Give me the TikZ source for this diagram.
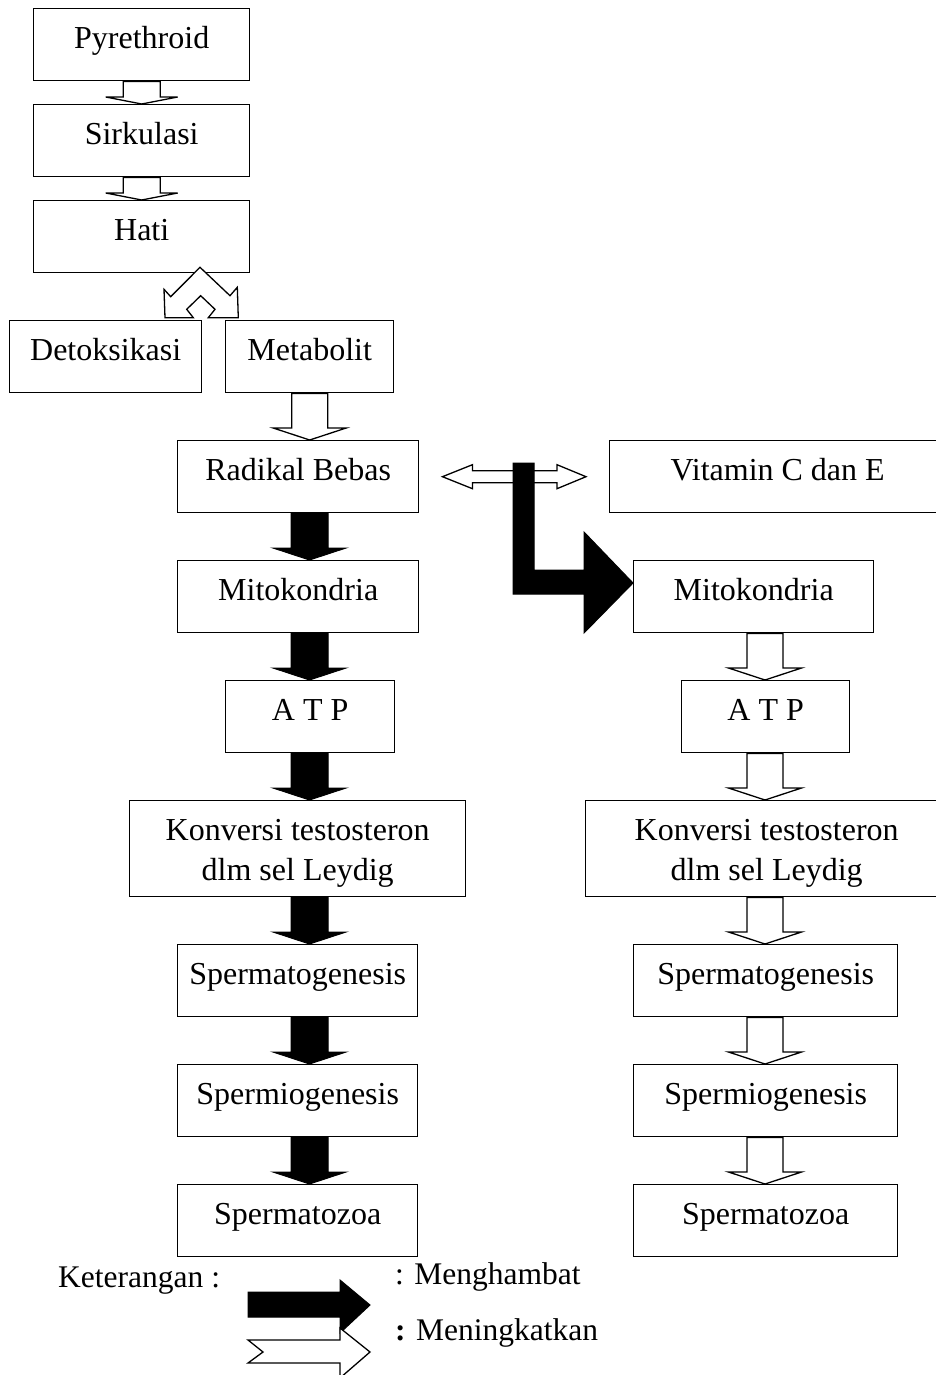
\documentclass[tikz,border=0pt]{standalone}
\usepackage{fontspec}
\setmainfont{Liberation Serif}
\usetikzlibrary{calc}
\tikzset{
  box/.style={draw, line width=1.4pt, rectangle, inner sep=0pt,
    font=\fontsize{32}{40}\selectfont, text height=40pt, text depth=32pt, anchor=north west},
  tallbox/.style={box, text depth=56pt},
  blk/.style={fill=black, draw=black, line width=1pt, line join=miter},
  wht/.style={fill=white, draw=black, line width=1.3pt, line join=miter},
  legtext/.style={inner sep=0pt, anchor=base west, font=\fontsize{31.5}{38}\selectfont},
}
% style, start, end, shaft half width, head half width, head length
\newcommand\vflow[6]{%
  \path[#1] let \p1=#2, \p2=#3 in
    (\x1-#4pt,\y1) -- (\x1-#4pt,\y2+#6pt) -- (\x1-#5pt,\y2+#6pt) -- (\x1,\y2)
    -- (\x1+#5pt,\y2+#6pt) -- (\x1+#4pt,\y2+#6pt) -- (\x1+#4pt,\y1) -- cycle;}
\begin{document}
\begin{tikzpicture}[x=1pt,y=-1pt]
\useasboundingbox (0,0) rectangle (935,1375);
\coordinate (lx) at (309.5,0);
\coordinate (rx) at (765,0);
% boxes
\node[box, minimum width=216pt] (pyr)  at (33,8)   {Pyrethroid};
\node[box, minimum width=216pt] (sirk) at (33,104) {Sirkulasi};
\node[box, minimum width=216pt] (hati) at (33,200) {Hati};
\node[box, minimum width=192pt] (detok) at (9,320) {Detoksikasi};
\node[box, minimum width=168pt] (meta) at (225,320) {Metabolit};
\node[box, minimum width=241pt] (rad)  at (177,440) {Radikal Bebas};
\node[box, minimum width=336pt] (vit)  at (609,440) {Vitamin C dan E};
\node[box, minimum width=241pt] (mitoL) at (177,560) {Mitokondria};
\node[box, minimum width=240pt] (mitoR) at (633,560) {Mitokondria};
\node[box, minimum width=169pt] (atpL) at (225,680) {A T P};
\node[box, minimum width=168pt] (atpR) at (681,680) {A T P};
\node[tallbox, minimum width=336pt] (konvL) at (129,800)
  {\begin{tabular}[t]{@{}c@{}}Konversi testosteron\\dlm sel Leydig\end{tabular}};
\node[tallbox, minimum width=362pt] (konvR) at (585,800)
  {\begin{tabular}[t]{@{}c@{}}Konversi testosteron\\dlm sel Leydig\end{tabular}};
\node[box, minimum width=240pt] (sgL) at (177,944)  {Spermatogenesis};
\node[box, minimum width=264pt] (sgR) at (633,944)  {Spermatogenesis};
\node[box, minimum width=240pt] (smL) at (177,1064) {Spermiogenesis};
\node[box, minimum width=264pt] (smR) at (633,1064) {Spermiogenesis};
\node[box, minimum width=240pt] (szL) at (177,1184) {Spermatozoa};
\node[box, minimum width=264pt] (szR) at (633,1184) {Spermatozoa};
% top hollow arrows
\vflow{wht}{(pyr.south)}{(sirk.north)}{18.5}{36}{7}
\vflow{wht}{(sirk.south)}{(hati.north)}{18.5}{36}{7}
% split arrow from Hati
\path[wht] (200,267.3) -- (170.7,296.7) -- (164,289.3) -- (165,317.7) -- (193.3,317.7)
  -- (186.7,309.3) -- (200.7,295.7) -- (215,309.3) -- (208.3,317.7) -- (238.3,317.7)
  -- (237.3,287.3) -- (230,295.7) -- cycle;
\vflow{wht}{(meta.south)}{(rad.north -| meta.south)}{18}{36.5}{12}
% left black arrows
\foreach \a/\b in {rad/mitoL, mitoL/atpL, atpL/konvL, konvL/sgL, sgL/smL, smL/szL}
  \vflow{blk}{(\a.south -| lx)}{(\b.north -| lx)}{18.5}{36.5}{12};
% right hollow arrows
\foreach \a/\b in {mitoR/atpR, atpR/konvR, konvR/sgR, sgR/smR, smR/szR}
  \vflow{wht}{(\a.south -| rx)}{(\b.north -| rx)}{18}{36.5}{12};
% double arrow
\path[wht] let \p1=(rad.east), \p2=(vit.west) in
  (\x1+23pt,\y1) -- (\x1+53pt,\y1+12pt) -- (\x1+53pt,\y1+6pt) -- (\x2-52pt,\y1+6pt)
  -- (\x2-52pt,\y1+12pt) -- (\x2-23pt,\y1) -- (\x2-52pt,\y1-12pt) -- (\x2-52pt,\y1-6pt)
  -- (\x1+53pt,\y1-6pt) -- (\x1+53pt,\y1-12pt) -- cycle;
% bent black arrow
\path[blk] (513,463) -- (534,463) -- (534,570) -- (584,570) -- (584,532) -- (633,583)
  -- (584,633) -- (584,594) -- (513,594) -- cycle;
% legend
\node[legtext] (ket) at (58,1287) {Keterangan :};
\path[blk] (248,1292) -- (340,1292) -- (340,1280) -- (370,1305) -- (340,1333)
  -- (340,1317) -- (248,1317) -- cycle;
\path[wht] (248,1340) -- (340,1340) -- (340,1328) -- (370,1352) -- (340,1378)
  -- (340,1363) -- (248,1363) -- (263,1352) -- cycle;
\node[legtext] (lhamb) at (395,1284) {: Menghambat};
\node[legtext] (lting) at (395,1340) {\textbf{:} Meningkatkan};
\end{tikzpicture}
\end{document}
